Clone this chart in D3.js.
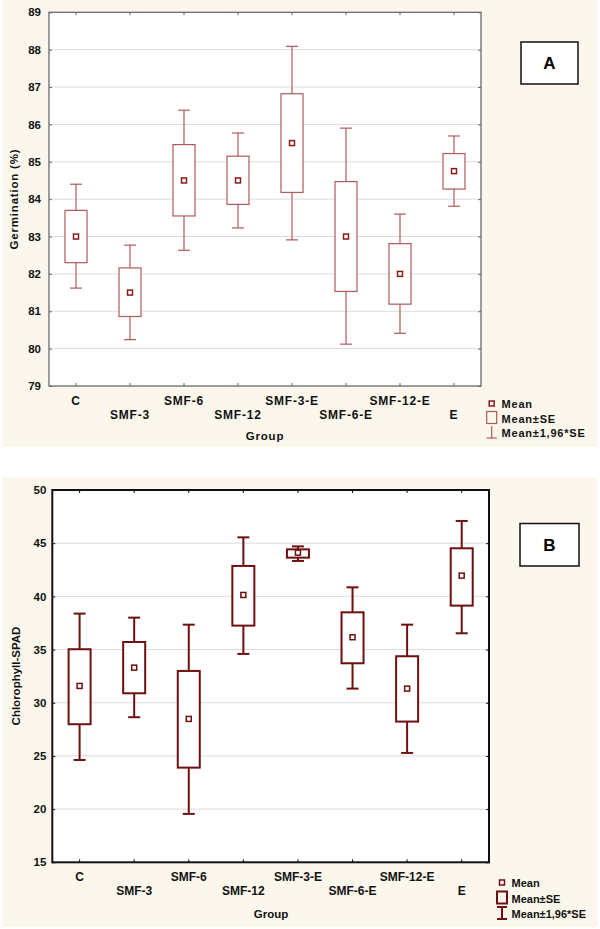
<!DOCTYPE html>
<html><head><meta charset="utf-8">
<script src="https://cdn.jsdelivr.net/npm/d3@7"></script>
<style>
html,body{margin:0;padding:0;background:#fff;}
svg{display:block;}
text{font-family:Arial,"Liberation Sans",sans-serif;font-weight:bold;}
</style></head><body>
<svg id="chart" width="600" height="929"></svg>
<script>
// ---- data ----
const groups = ["C","SMF-3","SMF-6","SMF-12","SMF-3-E","SMF-6-E","SMF-12-E","E"];

// Panel A: Germination (%)
const germMean   = [83.0, 81.5, 84.5, 84.5, 85.5, 83.0, 82.0, 84.75];
const germSeLow  = [82.3, 80.86, 83.55, 83.86, 84.18, 81.53, 81.19, 84.27];
const germSeHigh = [83.7, 82.16, 85.46, 85.15, 86.82, 84.47, 82.81, 85.22];
const germCiLow  = [81.62, 80.24, 82.63, 83.23, 82.91, 80.12, 80.41, 83.81];
const germCiHigh = [84.4, 82.77, 86.38, 85.77, 88.09, 85.9, 83.6, 85.69];
const germTicks  = [79,80,81,82,83,84,85,86,87,88,89];

// Panel B: Chlorophyll-SPAD
const chlMean   = [31.58, 33.3, 28.48, 40.13, 44.11, 36.16, 31.33, 41.95];
const chlSeLow  = [27.98, 30.89, 23.9, 37.25, 43.64, 33.71, 28.23, 39.13];
const chlSeHigh = [35.03, 35.71, 32.99, 42.86, 44.42, 38.5, 34.37, 44.52];
const chlCiLow  = [24.62, 28.64, 19.55, 34.59, 43.33, 31.33, 25.28, 36.53];
const chlCiHigh = [38.38, 38.0, 37.34, 45.55, 44.7, 40.85, 37.34, 47.09];
const chlTicks  = [15,20,25,30,35,40,45,50];

const legendLabels = ["Mean","Mean\u00B1SE","Mean\u00B11,96*SE"];

const svg = d3.select("#chart");

function panel(cfg){
  const g = svg.append("g");
  // cream background
  g.append("rect").attr("x",cfg.bg[0]).attr("y",cfg.bg[1]).attr("width",cfg.bg[2]).attr("height",cfg.bg[3]).attr("fill","#fcf7ec");
  const p = cfg.plot; // left, top, right, bottom
  g.append("rect").attr("x",p[0]).attr("y",p[1]).attr("width",p[2]-p[0]).attr("height",p[3]-p[1]).attr("fill","#fff");

  const x = d3.scaleBand().domain(groups).range([p[0],p[2]]).padding(0);
  const y = d3.scaleLinear().domain(cfg.domain).range([p[3],p[1]]);

  // gridlines
  g.append("g").selectAll("line").data(cfg.ticks.slice(1,-1)).join("line")
    .attr("x1",p[0]).attr("x2",p[2]).attr("y1",d=>y(d)).attr("y2",d=>y(d))
    .attr("stroke","#dcdcdc").attr("stroke-width",1);

  const data = groups.map((gname,i)=>({g:gname, m:cfg.mean[i], sl:cfg.seLow[i], sh:cfg.seHigh[i], cl:cfg.ciLow[i], ch:cfg.ciHigh[i]}));
  const bw = 22, cw = 12, ms = 5;
  const cx = d=>x(d.g)+x.bandwidth()/2;
  const marks = g.append("g").attr("stroke",cfg.color).attr("stroke-width",cfg.sw).attr("fill","none");
  marks.selectAll(".wu").data(data).join("line").attr("x1",cx).attr("x2",cx).attr("y1",d=>y(d.ch)).attr("y2",d=>y(d.sh));
  marks.selectAll(".wl").data(data).join("line").attr("x1",cx).attr("x2",cx).attr("y1",d=>y(d.sl)).attr("y2",d=>y(d.cl));
  marks.selectAll(".cu").data(data).join("line").attr("x1",d=>cx(d)-cw/2).attr("x2",d=>cx(d)+cw/2).attr("y1",d=>y(d.ch)).attr("y2",d=>y(d.ch));
  marks.selectAll(".cl").data(data).join("line").attr("x1",d=>cx(d)-cw/2).attr("x2",d=>cx(d)+cw/2).attr("y1",d=>y(d.cl)).attr("y2",d=>y(d.cl));
  marks.selectAll(".bx").data(data).join("rect").attr("x",d=>cx(d)-bw/2).attr("width",bw)
    .attr("y",d=>y(d.sh)).attr("height",d=>y(d.sl)-y(d.sh)).attr("fill","#fff");
  g.append("g").selectAll("rect").data(data).join("rect")
    .attr("x",d=>cx(d)-ms/2).attr("y",d=>y(d.m)-ms/2).attr("width",ms).attr("height",ms)
    .attr("fill","#fff").attr("stroke",cfg.meanColor).attr("stroke-width",1.5);

  // axes (ticks inward)
  const ax = g.append("g").attr("font-size",null);
  const left = ax.append("g").attr("transform",`translate(${p[0]},0)`)
    .call(d3.axisLeft(y).tickValues(cfg.ticks).tickSizeInner(-3).tickSizeOuter(0).tickPadding(cfg.yPad));
  const bottom = ax.append("g").attr("transform",`translate(0,${p[3]})`)
    .call(d3.axisBottom(x).tickSizeInner(-3).tickSizeOuter(0));
  ax.append("g").attr("transform",`translate(0,${p[1]})`)
    .call(d3.axisTop(x).tickSizeInner(-3).tickSizeOuter(0).tickFormat(""));
  ax.append("g").attr("transform",`translate(${p[2]},0)`)
    .call(d3.axisRight(y).tickValues(cfg.ticks).tickSizeInner(-3).tickSizeOuter(0).tickFormat(""));
  ax.selectAll("path.domain").remove();
  ax.selectAll(".tick line").attr("stroke",cfg.axisColor).attr("stroke-width",1);
  left.selectAll("text").attr("font-size",cfg.yFont).attr("fill","#111").attr("font-family","Arial, 'Liberation Sans', sans-serif").attr("font-weight","bold");
  bottom.selectAll("text").attr("font-size",12).attr("fill","#111").attr("font-family","Arial, 'Liberation Sans', sans-serif").attr("font-weight","bold")
    .attr("letter-spacing",cfg.ls).attr("dy",null)
    .attr("y",(d,i)=> i%2 ? cfg.row2 : cfg.row1);
  // frame
  g.append("rect").attr("x",p[0]).attr("y",p[1]).attr("width",p[2]-p[0]).attr("height",p[3]-p[1])
    .attr("fill","none").attr("stroke",cfg.axisColor).attr("stroke-width",cfg.frameW);

  // titles
  g.append("text").attr("x",cfg.groupPos[0]).attr("y",cfg.groupPos[1]).attr("text-anchor","middle")
    .attr("font-size",11.5).attr("letter-spacing",cfg.ls).attr("fill","#111").text("Group");
  g.append("text").attr("transform",`translate(${cfg.yTitlePos[0]},${cfg.yTitlePos[1]}) rotate(-90)`)
    .attr("text-anchor","middle").attr("font-size",11.5).attr("letter-spacing",cfg.ls).attr("fill","#111").text(cfg.yTitle);

  // panel label box
  const lb = cfg.labelBox;
  g.append("rect").attr("x",lb[0]).attr("y",lb[1]).attr("width",lb[2]).attr("height",lb[3])
    .attr("fill","#fff").attr("stroke","#111").attr("stroke-width",1.5);
  g.append("text").attr("x",lb[0]+lb[2]/2).attr("y",lb[1]+lb[3]/2+6).attr("text-anchor","middle")
    .attr("font-size",17).attr("fill","#000").text(cfg.label);

  // legend
  const L = cfg.legend; // marker x, first baseline, line gap, text x
  const lg = g.append("g");
  lg.append("rect").attr("x",L.mx-2.5).attr("y",L.y0-7).attr("width",5).attr("height",5)
    .attr("fill","none").attr("stroke",cfg.meanColor).attr("stroke-width",1.5);
  lg.append("rect").attr("x",L.mx-5).attr("y",L.y0+L.gap-11).attr("width",10).attr("height",12)
    .attr("fill","none").attr("stroke",cfg.color).attr("stroke-width",cfg.sw);
  const wy0 = L.y0+2*L.gap-11, wy1 = L.y0+2*L.gap+1;
  lg.append("line").attr("x1",L.mx).attr("x2",L.mx).attr("y1",wy0).attr("y2",wy1).attr("stroke",cfg.color).attr("stroke-width",cfg.sw);
  lg.append("line").attr("x1",L.mx-5).attr("x2",L.mx+5).attr("y1",wy1).attr("y2",wy1).attr("stroke",cfg.color).attr("stroke-width",cfg.sw);
  if(cfg.legendTopCap) lg.append("line").attr("x1",L.mx-5).attr("x2",L.mx+5).attr("y1",wy0).attr("y2",wy0).attr("stroke",cfg.color).attr("stroke-width",cfg.sw);
  lg.selectAll("text").data(legendLabels).join("text")
    .attr("x",L.tx).attr("y",(d,i)=>L.y0+i*L.gap).attr("font-size",11).attr("letter-spacing",cfg.ls)
    .attr("fill","#111").text(d=>d);
}

panel({
  bg:[2,0,596,447], plot:[49,12.3,481,386], domain:[79,89], ticks:germTicks,
  mean:germMean, seLow:germSeLow, seHigh:germSeHigh, ciLow:germCiLow, ciHigh:germCiHigh,
  color:"#b05a5a", meanColor:"#8a1c1c", sw:1.2, axisColor:"#6a6a6a", frameW:1.3,
  yPad:8, yFont:11.5, ls:0.8, row1:18.5, row2:33,
  groupPos:[265,440], yTitlePos:[18,199], yTitle:"Germination (%)",
  labelBox:[521,42,57,42], label:"A",
  legend:{mx:491.7, y0:408, gap:14.5, tx:501.5}, legendTopCap:false
});

panel({
  bg:[2,477,595,450], plot:[52.3,490,489,862.3], domain:[15,50], ticks:chlTicks,
  mean:chlMean, seLow:chlSeLow, seHigh:chlSeHigh, ciLow:chlCiLow, ciHigh:chlCiHigh,
  color:"#6e1010", meanColor:"#6e1010", sw:2, axisColor:"#111", frameW:2,
  yPad:6, yFont:11.5, ls:0, row1:18.5, row2:33,
  groupPos:[271,918], yTitlePos:[20,676], yTitle:"Chlorophyll-SPAD",
  labelBox:[520,523.5,59,42.5], label:"B",
  legend:{mx:502, y0:887, gap:15.5, tx:511.5}, legendTopCap:true
});
</script>
</body></html>
